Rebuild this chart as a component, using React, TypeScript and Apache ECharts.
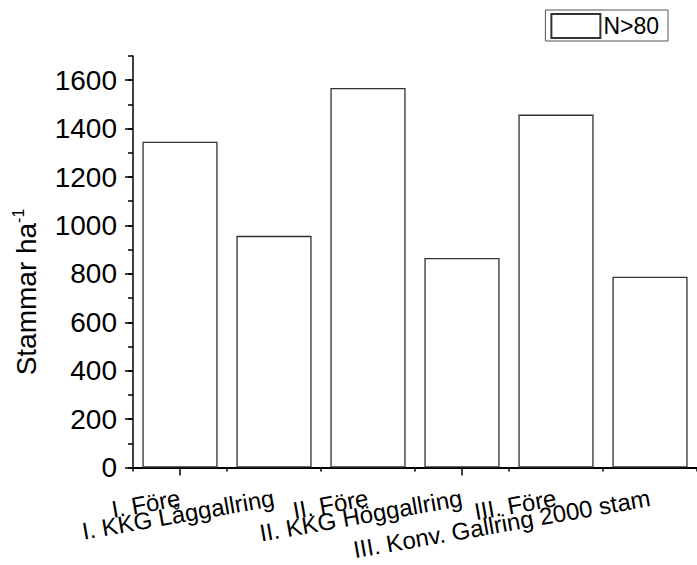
import React, { useEffect, useRef } from "react";
import * as echarts from "echarts";

const categories = [
  "I. Före",
  "I. KKG Låggallring",
  "II. Före",
  "II. KKG Höggallring",
  "III. Före",
  "III. Konv. Gallring 2000 stam",
];
const seriesName = "N>80";
const values = [1346, 957, 1568, 866, 1458, 788];
const yMax = 1700;
const yLabelMax = 1600;
const yMajorStep = 200;
const yMinorStep = 100;

const FONT = "'Liberation Sans', Arial, Helvetica, sans-serif";

export default function App() {
  const ref = useRef<HTMLDivElement>(null);
  useEffect(() => {
    document.body.style.margin = "0";
    document.body.style.overflow = "hidden";
    const chart = echarts.init(ref.current!, null, { renderer: "svg" });
    const top = 56;
    const bottom = 97.5;
    const plotH = 565 - top - bottom;
    const topLabels = top + (plotH * (yMax - yLabelMax)) / yMax;
    chart.setOption({
      animation: false,
      backgroundColor: "#ffffff",
      textStyle: { fontFamily: FONT, color: "#000" },
      legend: {
        data: [seriesName],
        right: 29,
        top: 10,
        padding: [3, 9, 2, 5],
        itemWidth: 49,
        itemHeight: 24,
        itemGap: 4,
        borderColor: "#555",
        borderWidth: 1,
        icon: "rect",
        textStyle: { fontSize: 23, color: "#000", fontFamily: FONT, padding: [0, 0, 0, -2] },
      },
      grid: [
        { left: 133, right: 0, top, bottom, containLabel: false, outerBoundsMode: "none" },
        { left: 133, right: 0, top: topLabels, bottom, containLabel: false, outerBoundsMode: "none" },
      ],
      xAxis: [
        {
          type: "category",
          gridIndex: 0,
          position: "bottom",
          data: categories,
          axisLine: { show: true, lineStyle: { color: "#000", width: 2 } },
          axisTick: { show: true, length: 4, lineStyle: { color: "#000", width: 1.5 } },
          axisLabel: {
            interval: 0,
            rotate: 10,
            fontSize: 24,
            fontFamily: FONT,
            color: "#000",
            margin: 30,
          },
          splitLine: { show: false },
        },
        {
          type: "category",
          gridIndex: 0,
          position: "bottom",
          data: categories,
          axisLine: { show: false },
          axisTick: { show: true, alignWithLabel: true, length: 8, lineStyle: { color: "#000", width: 1.5 } },
          axisLabel: { show: false },
          splitLine: { show: false },
        },
        {
          type: "value",
          gridIndex: 1,
          show: false,
        },
      ],
      yAxis: [
        {
          type: "value",
          gridIndex: 0,
          min: 0,
          max: yMax,
          interval: yMinorStep,
          axisLine: { show: true, lineStyle: { color: "#000", width: 1.5 } },
          axisTick: { show: true, length: 5, lineStyle: { color: "#000", width: 1.5 } },
          axisLabel: { show: false },
          splitLine: { show: false },
        },
        {
          type: "value",
          gridIndex: 1,
          min: 0,
          max: yLabelMax,
          interval: yMajorStep,
          axisLine: { show: false },
          axisTick: { show: true, length: 8, lineStyle: { color: "#000", width: 1.5 } },
          axisLabel: {
            fontSize: 28,
            fontFamily: FONT,
            color: "#000",
            margin: 16,
            formatter: (v: number) => String(v),
          },
          splitLine: { show: false },
        },
      ],
      graphic: [
        {
          type: "text",
          x: 26,
          y: 292,
          rotation: Math.PI / 2,
          style: {
            text: "{a|Stammar ha}{b|-1}",
            textAlign: "center",
            textVerticalAlign: "middle",
            align: "center",
            verticalAlign: "middle",
            fill: "#000",
            rich: {
              a: { fontSize: 28, fontFamily: FONT, fill: "#000", lineHeight: 32 },
              b: { fontSize: 16, fontFamily: FONT, fill: "#000", lineHeight: 17, verticalAlign: "top" },
            },
          },
        },
      ],
      series: [
        {
          name: seriesName,
          type: "bar",
          xAxisIndex: 0,
          yAxisIndex: 0,
          data: values,
          barCategoryGap: "20%",
          itemStyle: { color: "#ffffff", borderColor: "#333", borderWidth: 1.3 },
        },
      ],
    });
    return () => chart.dispose();
  }, []);
  return <div ref={ref} style={{ width: 697, height: 565 }} />;
}
